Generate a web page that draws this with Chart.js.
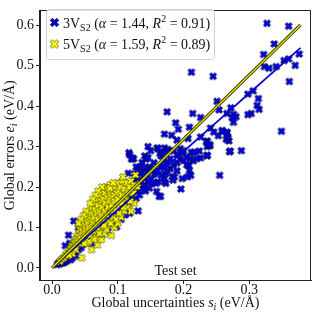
<!DOCTYPE html>
<html><head><meta charset="utf-8">
<script src="https://cdn.jsdelivr.net/npm/chart.js@4.4.1/dist/chart.umd.min.js"></script>
<style>html,body{margin:0;padding:0;background:#fff}#wrap{width:316px;height:315px}</style>
</head><body><div id="wrap"><canvas id="c" width="316" height="315"></canvas></div>
<script>
// ---- data ----
const seriesNames = ["3V", "5V"];
const alphas = [1.44, 1.59];
const r2s = [0.91, 0.89];
const xTicks = [0.0, 0.1, 0.2, 0.3];
const yTicks = [0.0, 0.1, 0.2, 0.3, 0.4, 0.5, 0.6];
const lineSMax = 0.378;

const s3V = [0.008,0.010,0.012,0.013,0.015,0.016,0.017,0.018,0.019,0.020,0.021,0.022,0.023,0.024,0.025,0.026,0.027,0.028,0.029,0.030,0.031,0.032,0.034,0.035,0.036,0.038,0.040,0.042,0.044,0.045,0.047,0.050,0.052,0.055,0.057,0.060,0.062,0.065,0.067,0.070,0.072,0.075,0.077,0.080,0.082,0.085,0.087,0.090,0.092,0.095,0.097,0.100,0.103,0.105,0.108,0.110,0.113,0.115,0.118,0.120,0.123,0.125,0.128,0.130,0.133,0.135,0.138,0.140,0.142,
0.033,0.050,0.027,0.025,0.020,0.040,0.093,0.098,0.111,0.113,0.131,0.085,0.075,0.060,0.105,0.118,0.078,0.088,0.095,0.120,0.125,0.128,0.122,
0.117,0.121,0.124,0.137,0.141,0.143,0.146,0.146,0.160,0.161,0.164,0.166,0.168,0.171,0.176,0.177,0.185,0.190,0.195,0.198,0.200,0.205,0.212,0.216,0.224,0.226,0.235,0.236,0.236,0.240,0.118,0.122,0.150,
0.128,0.134,0.141,0.148,0.116,0.126,0.156,0.166,0.173,0.183,0.161,0.141,0.146,0.151,0.148,0.159,0.163,0.171,0.173,0.158,0.186,0.184,0.196,0.208,0.209,0.211,0.206,0.198,0.255,0.165,
0.130,0.135,0.150,0.155,0.170,0.175,0.180,0.185,0.190,0.195,0.200,0.205,0.210,0.215,0.220,0.190,0.180,0.170,0.165,0.155,0.145,0.125,0.130,0.140,0.135,0.120,0.150,0.160,0.175,0.170,
0.212,0.245,0.175,0.214,0.251,0.254,0.226,0.188,0.192,0.209,0.171,0.182,0.190,0.207,0.226,0.241,0.246,0.259,0.266,0.269,0.271,0.288,0.265,0.236,0.240,0.253,0.268,0.270,0.236,
0.327,0.360,0.338,0.322,0.376,0.323,0.330,0.341,0.353,0.360,0.370,0.361,0.314,0.306,0.298,0.312,0.315,0.303,0.298,0.272,0.266,0.276,0.280,0.274,0.276,0.349,0.259,0.266];
const e3V = [0.008,0.012,0.010,0.016,0.013,0.020,0.012,0.018,0.024,0.015,0.022,0.028,0.018,0.030,0.022,0.035,0.028,0.020,0.040,0.032,0.025,0.045,0.038,0.050,0.030,0.055,0.045,0.060,0.050,0.068,0.058,0.072,0.065,0.080,0.070,0.088,0.078,0.095,0.085,0.100,0.092,0.108,0.098,0.115,0.105,0.120,0.110,0.130,0.122,0.137,0.128,0.145,0.135,0.150,0.142,0.160,0.152,0.168,0.160,0.175,0.165,0.182,0.172,0.190,0.180,0.195,0.200,0.205,0.190,
0.116,0.129,0.061,0.081,0.055,0.100,0.117,0.101,0.131,0.145,0.141,0.090,0.080,0.060,0.120,0.135,0.145,0.150,0.140,0.200,0.215,0.225,0.190,
0.285,0.269,0.270,0.261,0.277,0.269,0.300,0.273,0.297,0.295,0.283,0.277,0.285,0.297,0.293,0.289,0.290,0.280,0.295,0.285,0.290,0.275,0.286,0.286,0.289,0.272,0.312,0.300,0.277,0.302,0.280,0.272,0.290,
0.250,0.250,0.247,0.250,0.234,0.233,0.233,0.229,0.233,0.225,0.213,0.221,0.213,0.209,0.197,0.189,0.177,0.213,0.209,0.209,0.225,0.217,0.195,0.253,0.241,0.229,0.225,0.221,0.229,0.177,
0.240,0.235,0.240,0.260,0.250,0.260,0.245,0.255,0.260,0.270,0.265,0.255,0.270,0.265,0.270,0.240,0.270,0.265,0.250,0.245,0.235,0.215,0.225,0.230,0.215,0.200,0.220,0.240,0.240,0.220,
0.484,0.474,0.386,0.382,0.412,0.391,0.372,0.359,0.343,0.348,0.331,0.328,0.316,0.320,0.324,0.346,0.336,0.338,0.334,0.314,0.289,0.290,0.318,0.314,0.305,0.327,0.322,0.287,0.279,
0.605,0.598,0.554,0.528,0.529,0.498,0.494,0.498,0.513,0.517,0.501,0.461,0.419,0.438,0.430,0.402,0.392,0.382,0.379,0.396,0.382,0.380,0.374,0.372,0.360,0.338,0.340,0.336];

const s5V = [0.012,0.015,0.018,0.020,0.022,0.024,0.025,0.027,0.028,0.030,0.030,0.032,0.033,0.035,0.035,0.037,0.038,0.040,0.040,0.041,0.042,0.043,0.044,0.045,0.045,0.046,0.047,0.048,0.050,0.050,0.051,0.052,0.053,0.054,0.055,0.055,0.056,0.057,0.058,0.059,0.060,0.060,0.060,0.061,0.062,0.063,0.064,0.065,0.065,0.066,0.067,0.068,0.069,0.070,0.070,0.070,0.071,0.072,0.073,0.074,0.075,0.075,0.076,0.077,0.078,0.078,0.079,0.080,0.080,0.081,0.082,0.083,0.084,0.085,0.085,0.086,0.087,0.088,0.088,0.090,0.090,0.091,0.092,0.093,0.094,0.095,0.096,0.097,0.098,0.100,0.100,0.101,0.103,0.104,0.106,0.107,0.108,0.110,0.112,0.114,0.116,0.118,0.120,0.122,0.125,0.127,0.130,0.088,0.093,0.076,0.070,0.066,0.062,0.058,0.052,0.048,0.044,0.040,
0.075,0.080,0.090,0.095,0.100,0.105,0.110,0.115,0.120,0.125,0.083,0.072,0.064,0.056,0.049,0.036,0.031,0.026,0.102,0.109,0.097,0.089,0.079,0.068,0.111,0.119,0.124,0.106];
const e5V = [0.016,0.022,0.025,0.030,0.035,0.030,0.042,0.038,0.048,0.045,0.055,0.050,0.062,0.058,0.070,0.065,0.078,0.060,0.072,0.085,0.095,0.068,0.080,0.100,0.025,0.090,0.110,0.075,0.085,0.105,0.095,0.120,0.062,0.110,0.130,0.090,0.100,0.140,0.080,0.120,0.045,0.100,0.135,0.150,0.112,0.090,0.125,0.145,0.160,0.105,0.075,0.135,0.057,0.120,0.155,0.170,0.095,0.140,0.180,0.110,0.165,0.130,0.150,0.190,0.120,0.170,0.100,0.140,0.185,0.160,0.200,0.130,0.175,0.150,0.195,0.115,0.165,0.185,0.205,0.140,0.175,0.155,0.195,0.125,0.180,0.165,0.200,0.145,0.185,0.170,0.210,0.190,0.155,0.200,0.180,0.215,0.225,0.195,0.170,0.210,0.190,0.200,0.215,0.185,0.205,0.230,0.200,0.197,0.210,0.200,0.190,0.180,0.170,0.160,0.140,0.130,0.120,0.110,
0.070,0.085,0.080,0.100,0.110,0.125,0.140,0.150,0.140,0.160,0.095,0.085,0.070,0.065,0.060,0.045,0.035,0.032,0.135,0.150,0.120,0.110,0.105,0.100,0.175,0.165,0.185,0.160];

// ---- marker images (filled "X") ----
function makeX(fill, edge, s) {
  const size = Math.ceil(s * 0.95) + 2;
  const c = document.createElement('canvas');
  c.width = size; c.height = size;
  const g = c.getContext('2d');
  g.translate(size / 2, size / 2);
  g.rotate(Math.PI / 4);
  const v = [[-1,-3],[1,-3],[1,-1],[3,-1],[3,1],[1,1],[1,3],[-1,3],[-1,1],[-3,1],[-3,-1],[-1,-1]];
  g.beginPath();
  v.forEach((p, i) => { const x = p[0] * s / 6, y = p[1] * s / 6; i ? g.lineTo(x, y) : g.moveTo(x, y); });
  g.closePath();
  g.fillStyle = fill; g.fill();
  g.lineWidth = 0.7; g.strokeStyle = edge; g.stroke();
  return c;
}
const blueX = makeX('#0000ee', '#000033', 7.6);
const yellowX = makeX('#ffff00', '#444400', 7.6);
const blueXL = makeX('#0000ee', '#000033', 9);
const yellowXL = makeX('#ffff00', '#444400', 9);

const pts = (xs, ys) => xs.map((x, i) => ({x: x, y: ys[i]}));
const fitLine = a => [0, lineSMax].map(s => ({x: s, y: a * s}));

const SERIF = '"Liberation Serif", "Times New Roman", serif';

function drawRich(ctx, segs, x, y, align) {
  let w = 0;
  segs.forEach(sg => { ctx.font = (sg.it ? 'italic ' : '') + sg.sz + 'px ' + SERIF; sg.w = ctx.measureText(sg.t).width; w += sg.w; });
  let cx = align === 'center' ? x - w / 2 : x;
  ctx.textBaseline = 'alphabetic'; ctx.textAlign = 'left';
  segs.forEach(sg => { ctx.font = (sg.it ? 'italic ' : '') + sg.sz + 'px ' + SERIF; ctx.fillText(sg.t, cx, y + (sg.dy || 0)); cx += sg.w; });
}

const decor = {
  id: 'decor',
  afterDraw(chart) {
    const ctx = chart.ctx, a = chart.chartArea;
    ctx.save();
    // frame (top/right spines)
    ctx.strokeStyle = '#222'; ctx.lineWidth = 1;
    ctx.strokeRect(Math.round(a.left) - 0.5, Math.round(a.top) + 0.5, Math.round(a.right - a.left), Math.round(a.bottom - a.top));
    ctx.fillStyle = '#111';
    // x title
    drawRich(ctx, [
      {t: 'Global uncertainties ', sz: 14},
      {t: 's', sz: 14, it: true},
      {t: 'i', sz: 10, it: true, dy: 3},
      {t: ' (eV/Å)', sz: 14}
    ], (a.left + a.right) / 2, 307, 'center');
    // y title
    ctx.save();
    ctx.translate(14, (a.top + a.bottom) / 2);
    ctx.rotate(-Math.PI / 2);
    drawRich(ctx, [
      {t: 'Global errors ', sz: 14},
      {t: 'e', sz: 14, it: true},
      {t: 'i', sz: 10, it: true, dy: 3},
      {t: ' (eV/Å)', sz: 14}
    ], 0, 0, 'center');
    ctx.restore();
    // annotation
    drawRich(ctx, [{t: 'Test set', sz: 14}], (a.left + a.right) / 2, 275, 'center');
    // legend
    const lx = 46.5, ly = 9.5, lw = 168, lh = 50;
    ctx.beginPath();
    ctx.roundRect(lx, ly, lw, lh, 3);
    ctx.fillStyle = 'rgba(255,255,255,0.85)'; ctx.fill();
    ctx.strokeStyle = '#d0d0d0'; ctx.lineWidth = 1; ctx.stroke();
    const imgs = [blueXL, yellowXL];
    [0, 1].forEach(k => {
      const cy = 22.5 + k * 21.5;
      ctx.drawImage(imgs[k], 54.5 - imgs[k].width / 2, cy - imgs[k].height / 2);
      ctx.fillStyle = '#111';
      drawRich(ctx, [
        {t: seriesNames[k], sz: 14},
        {t: 'S2', sz: 10, dy: 3},
        {t: ' (', sz: 14},
        {t: 'α', sz: 14, it: true},
        {t: ' = ' + alphas[k].toFixed(2) + ', ', sz: 14},
        {t: 'R', sz: 14, it: true},
        {t: '2', sz: 10, dy: -6},
        {t: ' = ' + r2s[k].toFixed(2) + ')', sz: 14}
      ], 63, cy + 5, 'left');
    });
    ctx.restore();
  }
};

new Chart(document.getElementById('c'), {
  type: 'scatter',
  data: {
    datasets: [
      {label: '5V line', type: 'line', data: fitLine(alphas[1]), borderColor: '#e0e000', borderWidth: 1.4, pointRadius: 0, order: 0},
      {label: '5V line edge', type: 'line', data: fitLine(alphas[1]), borderColor: '#333300', borderWidth: 3.2, pointRadius: 0, order: 1},
      {label: '3V line', type: 'line', data: fitLine(alphas[0]), borderColor: '#0000cc', borderWidth: 1.8, pointRadius: 0, order: 2},
      {label: '5V', data: pts(s5V, e5V), pointStyle: yellowX, order: 3},
      {label: '3V', data: pts(s3V, e3V), pointStyle: blueX, order: 4}
    ]
  },
  options: {
    responsive: false,
    animation: false,
    events: [],
    layout: {padding: {left: 0, right: 3, top: 1, bottom: 0}},
    plugins: {legend: {display: false}, tooltip: {enabled: false}},
    scales: {
      x: {
        type: 'linear', min: -0.0184, max: 0.394,
        afterBuildTicks: s => { s.ticks = xTicks.map(v => ({value: v})); },
        afterFit: s => { s.height = 35; },
        ticks: {font: {family: SERIF, size: 14}, color: '#111', padding: -2, maxRotation: 0, callback: v => v.toFixed(1)},
        grid: {display: true, drawOnChartArea: false, drawTicks: true, tickLength: 4, color: '#222'},
        border: {display: true, color: '#222', width: 1}
      },
      y: {
        type: 'linear', min: -0.030, max: 0.637,
        afterBuildTicks: s => { s.ticks = yTicks.map(v => ({value: v})); },
        afterFit: s => { s.width = 40; },
        ticks: {font: {family: SERIF, size: 14}, color: '#111', padding: 2, callback: v => v.toFixed(1)},
        grid: {display: true, drawOnChartArea: false, drawTicks: true, tickLength: 4, color: '#222'},
        border: {display: true, color: '#222', width: 1}
      }
    }
  },
  plugins: [decor]
});
</script>
</body></html>
